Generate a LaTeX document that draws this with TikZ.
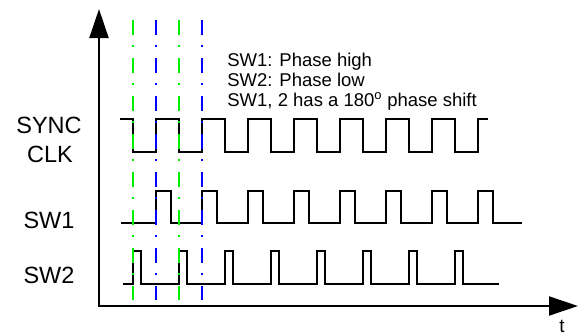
\documentclass[tikz,border=0pt]{standalone}
\usepackage{fontspec}
\setmainfont{Liberation Sans}
\usepackage{xcolor}
\definecolor{markgreen}{HTML}{00F000}
\definecolor{markblue}{HTML}{0000FF}
\usepackage{tikz}
\usetikzlibrary{arrows.meta}

\tikzset{
	wave/.style={line width=1.8pt, line join=miter},
	marker/.style={line width=2pt, dash pattern=on 15pt off 10pt on 2pt off 11pt},
	siglabel/.style={font=\fontsize{23.5}{28}\selectfont, anchor=base, inner sep=0pt},
	notelabel/.style={font=\fontsize{18.5}{20}\selectfont, anchor=base west, inner sep=0pt}
}

\begin{document}
\begin{tikzpicture}[x=1pt, y=-1pt, thick]
	\useasboundingbox (0,0) rectangle (579,335);
	
	% axes
	\draw[line width=2pt, {Triangle[length=29pt, width=19pt]}-{Triangle[length=29pt, width=19pt]}] (99,9) -- (99,306) -- (578,306);
	\node[anchor=base, inner sep=0pt, font=\fontsize{19}{23}\selectfont] (t) at (562,332) {t};
	
	% signal names
	\node[siglabel] (sync) at (49,133) {SYNC};
	\node[siglabel] (clk) at (50,162) {CLK};
	\node[siglabel] (sw1) at (49,228) {SW1};
	\node[siglabel] (sw2) at (49,283) {SW2};
	
	\node[notelabel] (note1) at (227,66) {SW1: Phase high};
	\node[notelabel] (note2) at (227,86) {SW2: Phase low};
	\node[notelabel] (note3) at (227,106) {SW1, 2 has a 180\textsuperscript{o} phase shift};
	
	% waveforms
	\draw[wave] (120,119) foreach \k in {0,...,7} {
		-- ({133+46*\k},119) -- ({133+46*\k},152) -- ({156+46*\k},152) -- ({156+46*\k},119)
	} -- (488,119);
	\draw[wave] (121,223) foreach \k in {0,...,7} {
		-- ({156+46*\k},223) -- ({156+46*\k},191) -- ({171+46*\k},191) -- ({171+46*\k},223)
	} -- (522,223);
	\draw[wave] (123,284) foreach \k in {0,...,7} {
		-- ({133+46*\k},284) -- ({133+46*\k},251) -- ({141+46*\k},251) -- ({141+46*\k},284)
	} -- (499,284);
	
	% phase markers
	\foreach \x/\c in {133/markgreen, 156/markblue, 179/markgreen, 202/markblue} {
		\draw[marker, \c] (\x,20) -- (\x,300);
	}
\end{tikzpicture}
\end{document}
